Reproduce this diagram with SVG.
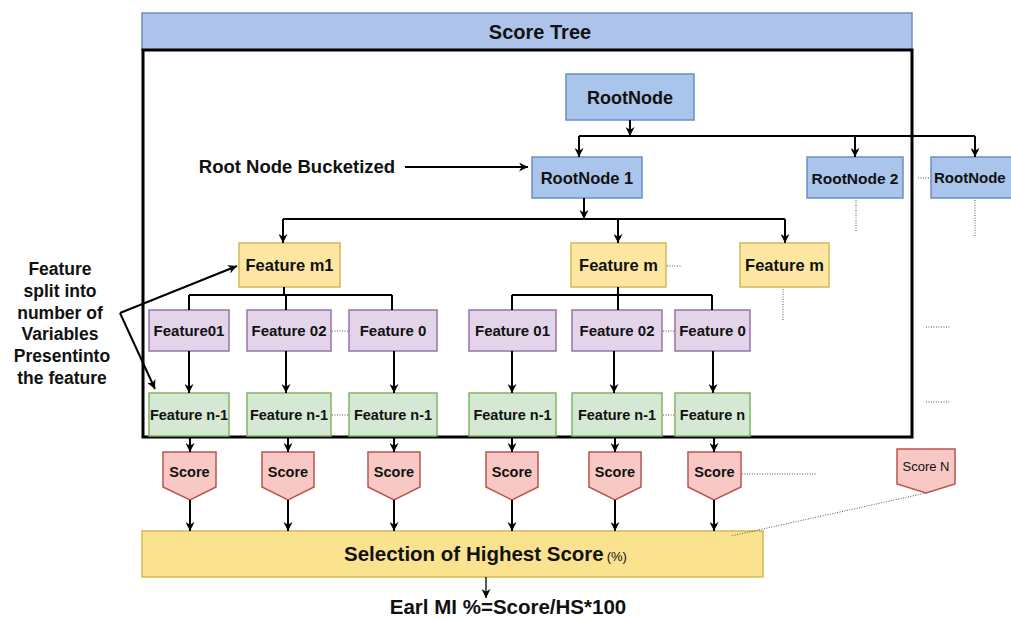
<svg xmlns="http://www.w3.org/2000/svg" width="1011" height="619" viewBox="0 0 1011 619">
<defs>
<marker id="arr" viewBox="0 0 10 10" refX="10" refY="5" markerWidth="9" markerHeight="9" markerUnits="userSpaceOnUse" orient="auto">
<path d="M0,0 L10,5 L0,10 L3,5 z" fill="#000"/>
</marker>
<style>
text{font-family:"Liberation Sans",Arial,sans-serif;fill:#111;}
.b{font-weight:bold;}
.blue{fill:#a9c5eb;stroke:#6c8ebf;stroke-width:1.5;}
.yel{fill:#fde6a2;stroke:#d6b656;stroke-width:1.5;}
.pur{fill:#e4d4e9;stroke:#9673a6;stroke-width:1.5;}
.grn{fill:#d5e8d4;stroke:#82b366;stroke-width:1.5;}
.pnk{fill:#f8c9c4;stroke:#b85450;stroke-width:1.5;}
.c{fill:none;stroke:#000;stroke-width:2;}
.ca{fill:none;stroke:#000;stroke-width:2;marker-end:url(#arr);}
.ct{fill:none;stroke:#000;stroke-width:1.3;marker-end:url(#arr);}
.d{fill:none;stroke:#555;stroke-width:1;stroke-dasharray:1 1.5;}
.t15{font-size:15px;font-weight:bold;}
.t14{font-size:14.5px;font-weight:bold;}
</style>
</defs>
<rect width="1011" height="619" fill="#fff"/>

<g id="frame">
<rect x="142" y="13" width="770" height="37" fill="#aec3ea" stroke="#6c8ebf" stroke-width="1.5"/>
<text x="540" y="39" text-anchor="middle" class="b" font-size="20">Score Tree</text>
<rect x="143" y="50" width="769" height="387" fill="none" stroke="#000" stroke-width="3"/>
</g>

<g id="root"><rect class="blue" x="566" y="74" width="128" height="46"/><text x="630" y="104" text-anchor="middle" class="b" font-size="18">RootNode</text></g>
<g id="root1"><rect class="blue" x="532" y="157" width="110" height="41"/><text x="587" y="184" text-anchor="middle" class="b" font-size="16.5">RootNode 1</text></g>
<g id="root2"><rect class="blue" x="807" y="157" width="96" height="41"/><text x="855" y="184" text-anchor="middle" class="b" font-size="15.5">RootNode 2</text></g>
<g id="rootN"><rect class="blue" x="931" y="157" width="110" height="41"/><text x="934" y="183" class="b" font-size="15">RootNode</text></g>

<g id="fm1"><rect class="yel" x="239" y="243" width="101" height="44"/><text x="289.5" y="271" text-anchor="middle" class="b" font-size="16.5">Feature m1</text></g>
<g id="fm"><rect class="yel" x="571" y="243" width="95" height="44"/><text x="618.5" y="271" text-anchor="middle" class="b" font-size="16.5">Feature m</text></g>
<g id="fm2"><rect class="yel" x="740" y="243" width="89" height="44"/><text x="784.5" y="271" text-anchor="middle" class="b" font-size="16.5">Feature m</text></g>

<g id="p1"><rect class="pur" x="149" y="310" width="80" height="41"/><text x="189" y="336" text-anchor="middle" class="t15">Feature01</text></g>
<g id="p2"><rect class="pur" x="247" y="310" width="84" height="41"/><text x="289" y="336" text-anchor="middle" class="t15">Feature 02</text></g>
<g id="p3"><rect class="pur" x="349" y="310" width="88" height="41"/><text x="393" y="336" text-anchor="middle" class="t15">Feature 0</text></g>
<g id="p4"><rect class="pur" x="469" y="310" width="87" height="41"/><text x="512.5" y="336" text-anchor="middle" class="t15">Feature 01</text></g>
<g id="p5"><rect class="pur" x="572" y="310" width="90" height="41"/><text x="617" y="336" text-anchor="middle" class="t15">Feature 02</text></g>
<g id="p6"><rect class="pur" x="675" y="310" width="75" height="41"/><text x="712.5" y="336" text-anchor="middle" class="t15">Feature 0</text></g>

<g id="g1"><rect class="grn" x="149" y="393" width="80" height="43"/><text x="189" y="420" text-anchor="middle" class="t14" font-size="14">Feature n-1</text></g>
<g id="g2"><rect class="grn" x="247" y="393" width="84" height="43"/><text x="289" y="420" text-anchor="middle" class="t14">Feature n-1</text></g>
<g id="g3"><rect class="grn" x="349" y="393" width="88" height="43"/><text x="393" y="420" text-anchor="middle" class="t14">Feature n-1</text></g>
<g id="g4"><rect class="grn" x="469" y="393" width="87" height="43"/><text x="512.5" y="420" text-anchor="middle" class="t14">Feature n-1</text></g>
<g id="g5"><rect class="grn" x="572" y="393" width="90" height="43"/><text x="617" y="420" text-anchor="middle" class="t14">Feature n-1</text></g>
<g id="g6"><rect class="grn" x="675" y="393" width="75" height="43"/><text x="712.5" y="420" text-anchor="middle" class="t14">Feature n</text></g>

<g id="s1"><polygon class="pnk" points="163,452 216,452 216,487 190,500 163,487"/><text x="189.5" y="477" text-anchor="middle" class="t14">Score</text></g>
<g id="s2"><polygon class="pnk" points="262,452 314,452 314,487 288,500 262,487"/><text x="288" y="477" text-anchor="middle" class="t14">Score</text></g>
<g id="s3"><polygon class="pnk" points="368,452 420,452 420,487 394,500 368,487"/><text x="394" y="477" text-anchor="middle" class="t14">Score</text></g>
<g id="s4"><polygon class="pnk" points="486,452 538,452 538,487 512,500 486,487"/><text x="512" y="477" text-anchor="middle" class="t14">Score</text></g>
<g id="s5"><polygon class="pnk" points="589,452 641,452 641,487 615,500 589,487"/><text x="615" y="477" text-anchor="middle" class="t14">Score</text></g>
<g id="s6"><polygon class="pnk" points="688,452 741,452 741,487 714,500 688,487"/><text x="714.5" y="477" text-anchor="middle" class="t14">Score</text></g>
<g id="sN"><polygon class="pnk" points="897,449 955,449 955,484 926,493 897,484"/><text x="926" y="471" text-anchor="middle" font-size="13">Score N</text></g>

<g id="sel"><rect x="142" y="531" width="621" height="46" fill="#fbe28f" stroke="#d6b656" stroke-width="1.5"/>
<text x="344" y="561" class="b" font-size="20.5">Selection of Highest Score<tspan font-size="13" font-weight="normal" dx="3">(%)</tspan></text></g>

<g id="labels">
<text x="297" y="173" text-anchor="middle" class="b" font-size="18.5">Root Node Bucketized</text>
<g class="b" font-size="17.5" text-anchor="middle">
<text x="60" y="275">Feature</text>
<text x="60" y="297">split into</text>
<text x="60" y="319">number of</text>
<text x="60" y="340">Variables</text>
<text x="62" y="362">Presentinto</text>
<text x="62" y="384">the feature</text>
</g>
<text x="508" y="614" text-anchor="middle" class="b" font-size="20.5">Earl MI %=Score/HS*100</text>
</g>

<g id="connectors">
<path class="ca" d="M630,120 V136"/>
<path class="c" d="M579,136 H975"/>
<path class="ca" d="M579,136 V157"/>
<path class="ca" d="M855,136 V157"/>
<path class="ca" d="M975,136 V157"/>
<path class="ca" d="M405,167 H528"/>
<path class="ca" d="M584,198 V219"/>
<path class="c" d="M283,219 H785"/>
<path class="ca" d="M283,219 V243"/>
<path class="ca" d="M618,219 V243"/>
<path class="ca" d="M785,219 V243"/>
<path class="c" d="M284,287 V295 M189,295 H392 M189,295 V310 M392,295 V310 M286,295 V310"/>
<path class="c" d="M618,287 V295 M512,295 H712 M512,295 V310 M712,295 V310 M618,295 V310"/>
<path class="ca" d="M189,351 V393"/>
<path class="ca" d="M286,351 V393"/>
<path class="ca" d="M394,351 V393"/>
<path class="ca" d="M512,351 V393"/>
<path class="ca" d="M614,351 V393"/>
<path class="ca" d="M713,351 V393"/>
<path class="ca" d="M190,438 V452"/>
<path class="ca" d="M288,438 V452"/>
<path class="ca" d="M394,438 V452"/>
<path class="ca" d="M512,438 V452"/>
<path class="ca" d="M615,438 V452"/>
<path class="ca" d="M714,438 V452"/>
<path class="ca" d="M190,500 V531"/>
<path class="ca" d="M288,500 V531"/>
<path class="ca" d="M394,500 V531"/>
<path class="ca" d="M512,500 V531"/>
<path class="ca" d="M615,500 V531"/>
<path class="ca" d="M714,500 V531"/>
<path class="ct" d="M486,577 V598"/>
<path class="ca" d="M120,313 L237,266"/>
<path class="ca" d="M120,313 L155,389"/>
<path class="d" d="M918,178 H930 M856,200 V232 M975,200 V236 M667,266 H681 M783,289 V320 M332,331 H348 M332,415 H348 M663,331 H674 M663,415 H674 M926,327 H951 M926,402 H951 M742,474 H817 M926,493 L731,536"/>
</g>
</svg>
